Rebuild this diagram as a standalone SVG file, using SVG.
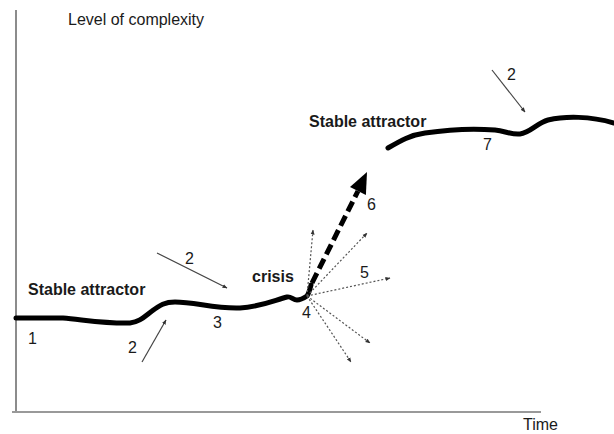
<svg xmlns="http://www.w3.org/2000/svg" width="614" height="434" viewBox="0 0 614 434">
<style>
text{font-family:"Liberation Sans",Arial,sans-serif;font-size:16px;fill:#1a1a1a}
.b{font-weight:bold}
.curve{fill:none;stroke:#000;stroke-width:5;stroke-linecap:round;stroke-linejoin:round}
.thin{fill:none;stroke:#444;stroke-width:1.2}
.dot{fill:none;stroke:#555;stroke-width:1.2;stroke-dasharray:2 2}
</style>
<defs>
<marker id="ah" viewBox="0 0 10 10" refX="9" refY="5" markerWidth="5" markerHeight="5" orient="auto" markerUnits="userSpaceOnUse">
<path d="M0,1 L10,5 L0,9 z" fill="#333"/>
</marker>
</defs>
<g id="axes">
<line x1="16" y1="10" x2="16" y2="413" stroke="#666" stroke-width="1.5"/>
<line x1="12" y1="412" x2="541" y2="412" stroke="#999" stroke-width="2"/>
<text x="68" y="25">Level of complexity</text>
<text x="523" y="430">Time</text>
</g>
<g id="lower-attractor">
<path class="curve" d="M16,318 L63,318 C85,320 110,324 130,323 C140,322 145,316 152,311 C160,305 165,302 175,302 C195,302 215,309 240,308 C260,307 275,300 287,297 C291,296 293,300 297,300 C301,300 304,298 307,296 C309,293 310,289 311,285"/>
<text class="b" x="28" y="295">Stable attractor</text>
<text x="28" y="344">1</text>
<text x="213" y="328">3</text>
</g>
<g id="crisis">
<text class="b" x="252" y="282">crisis</text>
<text x="302" y="318">4</text>
<text x="360" y="278">5</text>
<text x="367" y="210">6</text>
</g>
<g id="upper-attractor">
<path class="curve" d="M388,148 C400,141 410,135 425,133 C445,130 470,128 495,130 C505,131 512,135 520,134 C530,133 537,123 548,120 C565,116 590,116 614,123"/>
<text class="b" x="309" y="127">Stable attractor</text>
<text x="483" y="150">7</text>
</g>
<g id="connectors">
<line class="thin" x1="142" y1="362" x2="166" y2="320" marker-end="url(#ah)"/>
<text x="128" y="353">2</text>
<line class="thin" x1="157" y1="253" x2="227" y2="288" marker-end="url(#ah)"/>
<text x="185" y="264">2</text>
<line class="thin" x1="492" y1="70" x2="525" y2="112" marker-end="url(#ah)"/>
<text x="507" y="80">2</text>
<line class="dot" x1="307" y1="296" x2="313" y2="230" marker-end="url(#ah)"/>
<line class="dot" x1="307" y1="296" x2="367" y2="233" marker-end="url(#ah)"/>
<line class="dot" x1="307" y1="296" x2="390" y2="278" marker-end="url(#ah)"/>
<line class="dot" x1="307" y1="296" x2="370" y2="343" marker-end="url(#ah)"/>
<line class="dot" x1="307" y1="296" x2="351" y2="362" marker-end="url(#ah)"/>
<line x1="312" y1="283" x2="358" y2="191" stroke="#000" stroke-width="5" stroke-dasharray="11 5"/>
<polygon points="367,172 365.9,195 350,187" fill="#000"/>
</g>
</svg>
